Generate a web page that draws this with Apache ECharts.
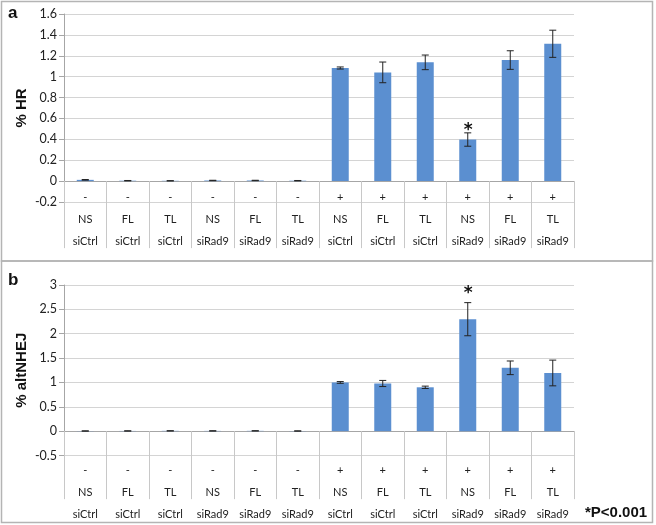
<!DOCTYPE html>
<html>
<head>
<meta charset="utf-8">
<script src="https://cdn.jsdelivr.net/npm/echarts@6/dist/echarts.min.js"></script>
<style>html,body{margin:0;padding:0;background:#fff}#c{width:656px;height:525px}</style>
</head>
<body>
<div id="c"></div>
<script>
var treatment = ['-','-','-','-','-','-','+','+','+','+','+','+'];
var guide = ['NS','FL','TL','NS','FL','TL','NS','FL','TL','NS','FL','TL'];
var sirna = ['siCtrl','siCtrl','siCtrl','siRad9','siRad9','siRad9','siCtrl','siCtrl','siCtrl','siRad9','siRad9','siRad9'];

var hrMean = [0.012, 0.004, 0.003, 0.006, 0.006, 0.004, 1.083, 1.041, 1.137, 0.398, 1.159, 1.315];
var hrErr  = [0.003, 0.002, 0.001, 0.002, 0.002, 0.002, 0.010, 0.099, 0.070, 0.064, 0.089, 0.130];
var hrStar = [0,0,0,0,0,0,0,0,0,1,0,0];

var nhejMean = [0.003, 0.004, 0.006, 0.005, 0.006, 0.003, 1.000, 0.978, 0.900, 2.298, 1.300, 1.194];
var nhejErr  = [0.002, 0.002, 0.002, 0.002, 0.002, 0.002, 0.018, 0.063, 0.024, 0.340, 0.140, 0.264];
var nhejStar = [0,0,0,0,0,0,0,0,0,1,0,0];

var yTicksA = {min: -0.2, max: 1.6, interval: 0.2};
var yTicksB = {min: -0.5, max: 3, interval: 0.5};

var cats = treatment.map(function(t, i){ return t + '\n' + guide[i] + '\n' + sirna[i]; });
var FONT = 'Lato, "Open Sans", sans-serif';
var BAR = '#5b8fd0';

function errData(m, e, s){ return m.map(function(v,i){ return [i, v - e[i], v + e[i], s[i]]; }); }

function errSeries(idx, m, e, s, starGap){
  return {
    type: 'custom', xAxisIndex: idx, yAxisIndex: idx, z: 5,
    data: errData(m, e, s),
    encode: {x: 0, y: [1, 2]},
    renderItem: function(params, api){
      var x = api.value(0);
      var lo = api.coord([x, api.value(1)]);
      var hi = api.coord([x, api.value(2)]);
      var w = 3.5;
      var st = {stroke: '#222', lineWidth: 1};
      var ch = [
        {type: 'line', shape: {x1: lo[0], y1: lo[1], x2: hi[0], y2: hi[1]}, style: st},
        {type: 'line', shape: {x1: lo[0]-w, y1: lo[1], x2: lo[0]+w, y2: lo[1]}, style: st},
        {type: 'line', shape: {x1: hi[0]-w, y1: hi[1], x2: hi[0]+w, y2: hi[1]}, style: st}
      ];
      if (api.value(3)) {
        ch.push({type: 'text', x: hi[0] + 0.5, y: hi[1] - starGap + 4, style: {text: '*', fontSize: 17, fontWeight: 'bold', fill: '#111', fontFamily: 'DejaVu Sans, sans-serif', align: 'center', verticalAlign: 'middle'}});
      }
      return {type: 'group', children: ch};
    }
  };
}

function xAxis(idx, tickLen, margin){
  return {
    type: 'category', gridIndex: idx, data: cats,
    axisLine: {onZero: true, lineStyle: {color: '#a6a6a6', width: 1}},
    axisTick: {show: true, length: tickLen, lineStyle: {color: '#c8c8c8'}},
    axisLabel: {interval: 0, margin: margin, lineHeight: 22, fontSize: 11, color: '#222', fontFamily: FONT},
    splitLine: {show: false}
  };
}

function yAxis(idx, t, name){
  return {
    type: 'value', gridIndex: idx, min: t.min, max: t.max, interval: t.interval,
    name: name, nameLocation: 'middle', nameGap: 35, nameMoveOverlap: false,
    nameTextStyle: {fontSize: 15, fontWeight: 'bold', color: '#111', fontFamily: 'Liberation Sans, Arial, sans-serif'},
    axisLine: {show: true, lineStyle: {color: '#a6a6a6'}},
    axisTick: {show: true, length: 5, lineStyle: {color: '#a6a6a6'}},
    axisLabel: {fontSize: 12.5, color: '#222', margin: 7, fontFamily: FONT},
    splitLine: {show: true, lineStyle: {color: '#d4d4d4', width: 1}}
  };
}

var chart = echarts.init(document.getElementById('c'), null, {renderer: 'canvas'});
chart.setOption({
  animation: false,
  backgroundColor: '#fff',
  grid: [
    {left: 64, right: 82, top: 14, height: 188},
    {left: 64, right: 82, top: 285, height: 194}
  ],
  xAxis: [xAxis(0, 67, -16), xAxis(1, 68, 3.5)],
  yAxis: [yAxis(0, yTicksA, '% HR'), yAxis(1, yTicksB, '% altNHEJ')],
  series: [
    {type: 'bar', xAxisIndex: 0, yAxisIndex: 0, data: hrMean, barWidth: 17, itemStyle: {color: BAR}},
    errSeries(0, hrMean, hrErr, hrStar, 6.5),
    {type: 'bar', xAxisIndex: 1, yAxisIndex: 1, data: nhejMean, barWidth: 17, itemStyle: {color: BAR}},
    errSeries(1, nhejMean, nhejErr, nhejStar, 13.5)
  ],
  graphic: [
    {type: 'rect', shape: {x: 1.5, y: 1.5, width: 651, height: 259.5}, style: {fill: 'none', stroke: '#b4b4b4', lineWidth: 1.5}, silent: true},
    {type: 'rect', shape: {x: 1.5, y: 261, width: 651, height: 261.5}, style: {fill: 'none', stroke: '#b4b4b4', lineWidth: 1.5}, silent: true},
    {type: 'text', left: 8, top: 5, style: {text: 'a', fontSize: 17, fontWeight: 'bold', fill: '#111', fontFamily: 'Liberation Sans, Arial, sans-serif'}},
    {type: 'text', left: 8, top: 272, style: {text: 'b', fontSize: 17, fontWeight: 'bold', fill: '#111', fontFamily: 'Liberation Sans, Arial, sans-serif'}},
    {type: 'text', left: 585, top: 505, style: {text: '*P<0.001', fontSize: 15, fontWeight: 'bold', fill: '#111', fontFamily: 'Liberation Sans, Arial, sans-serif'}}
  ]
});
</script>
</body>
</html>
